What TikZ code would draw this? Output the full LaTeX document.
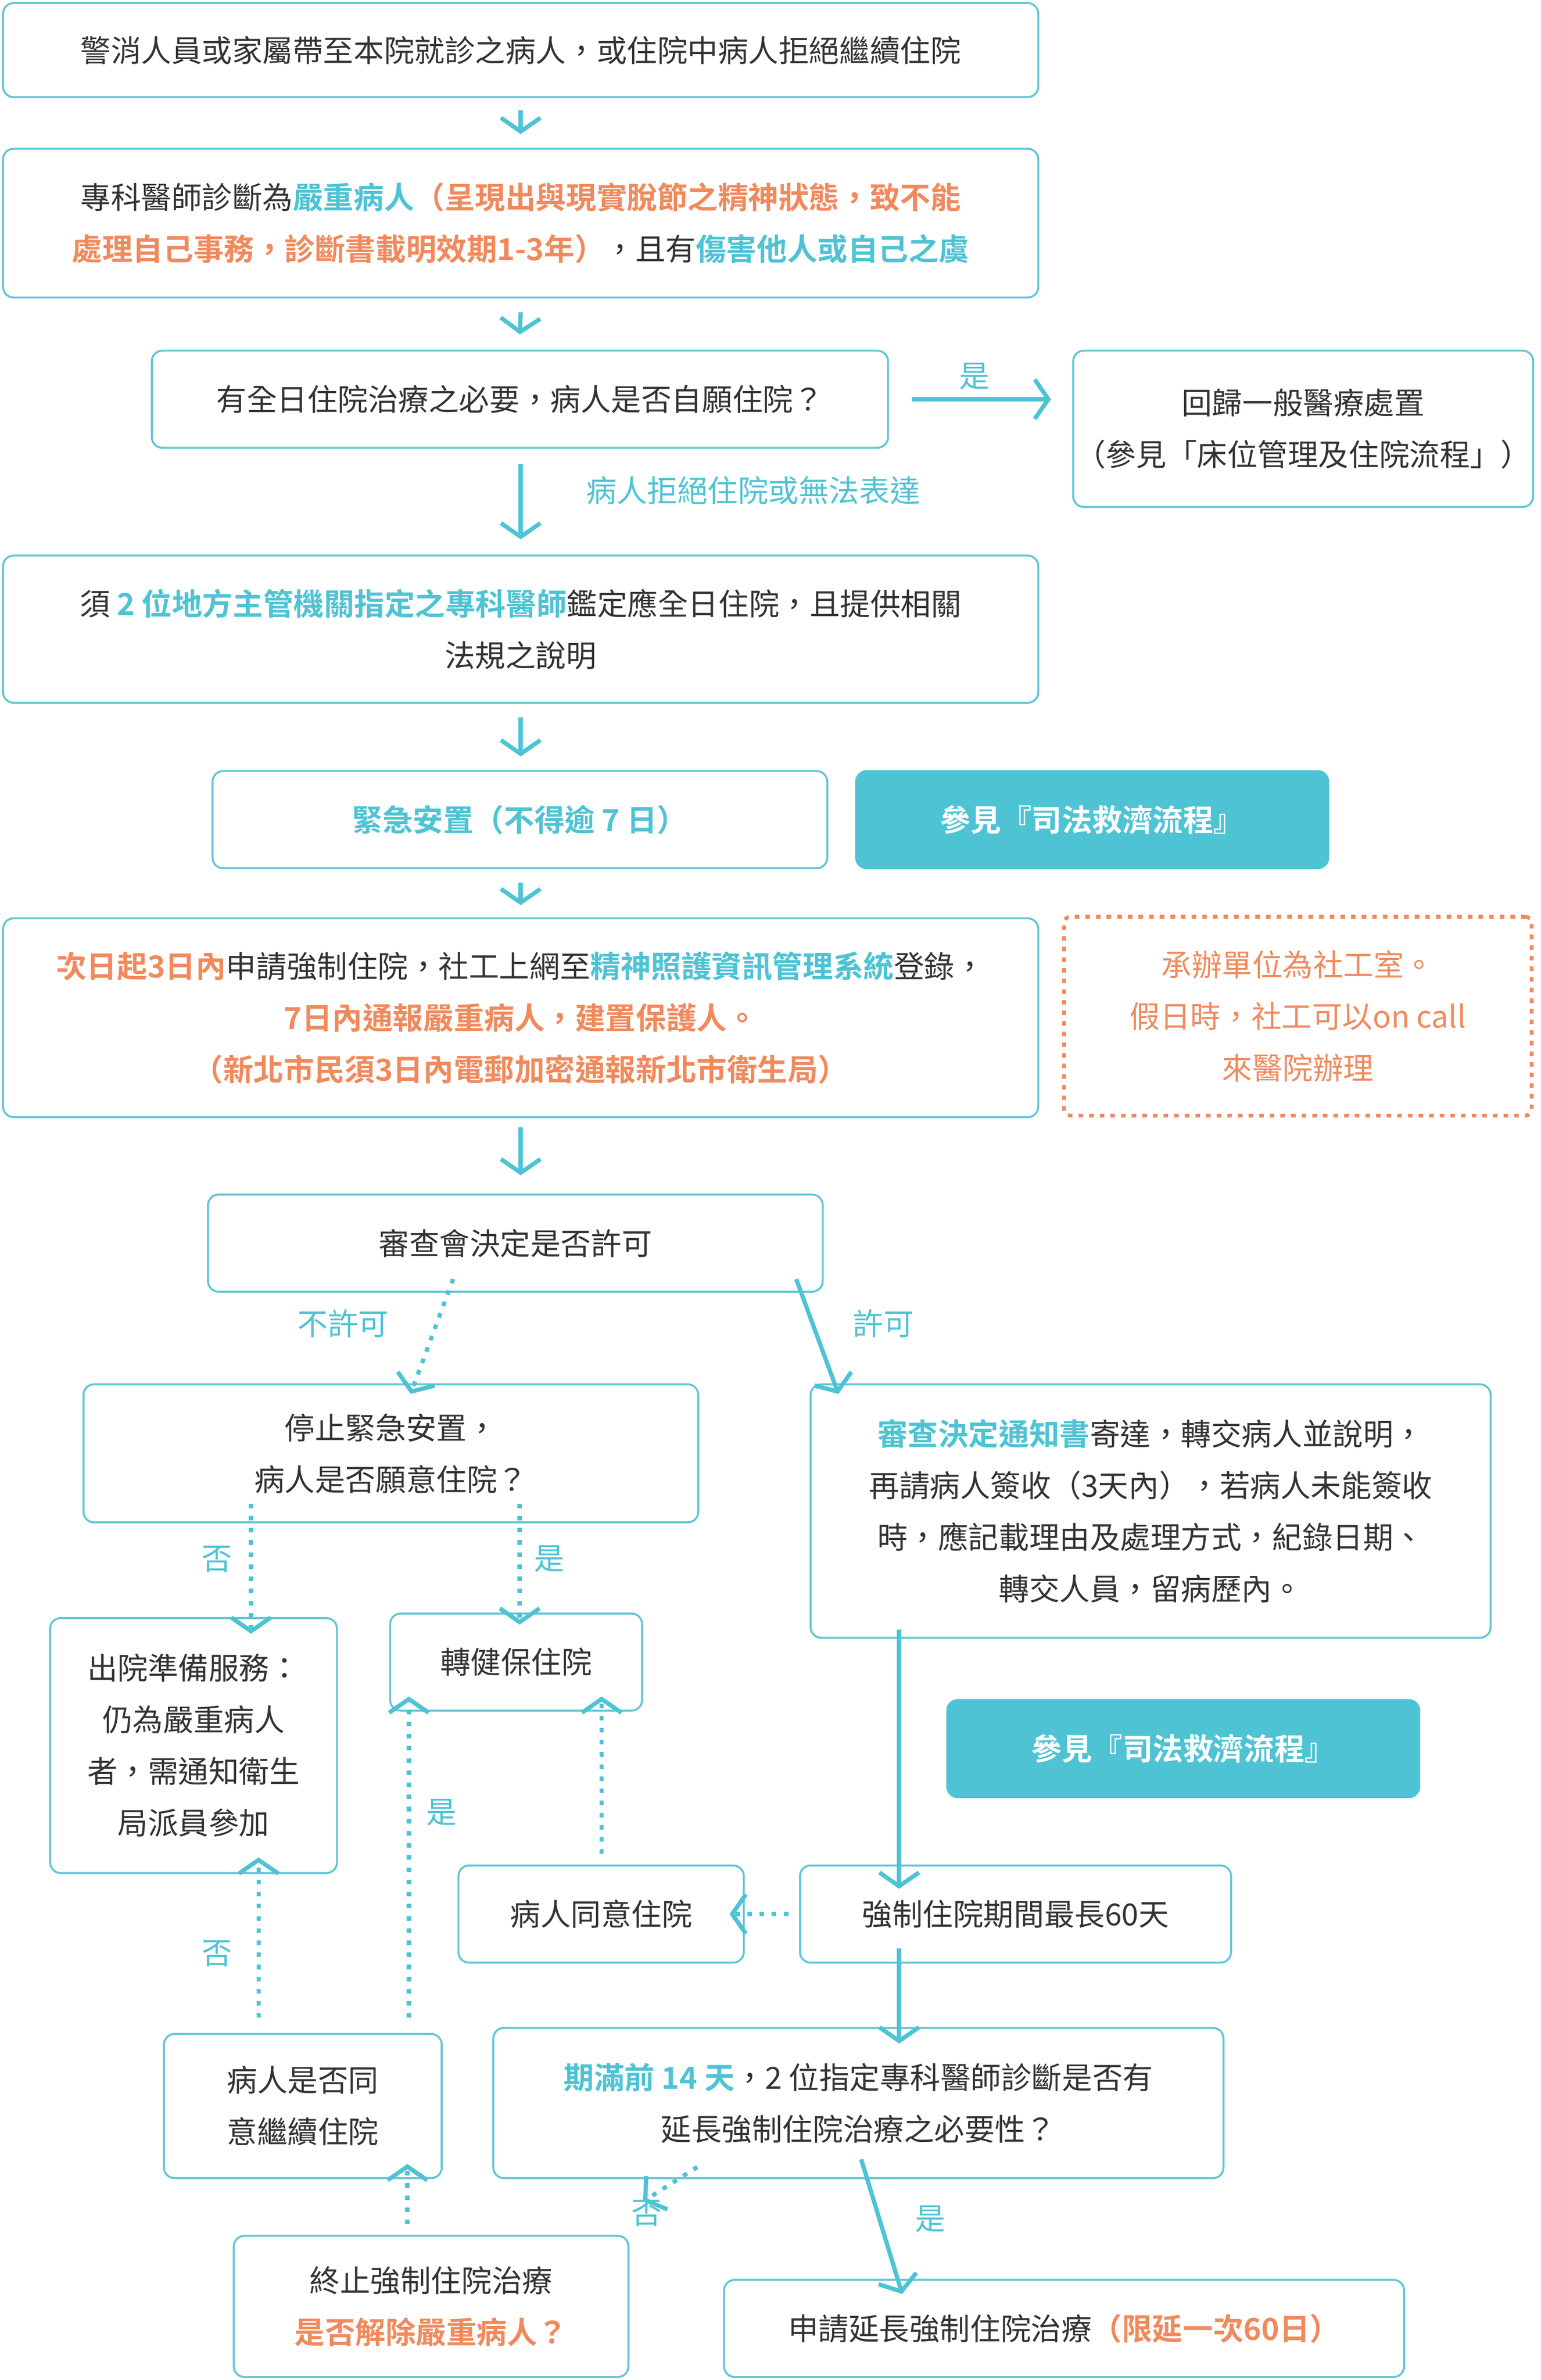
\documentclass[tikz,border=0pt]{standalone}
\usepackage{fontspec}
\setmainfont{Noto Sans CJK TC}[BoldFont={Noto Sans CJK TC Bold}]
\usetikzlibrary{arrows.meta,calc}
\definecolor{tl}{HTML}{4EC3D4}
\definecolor{tb}{HTML}{62C6D6}
\definecolor{og}{HTML}{F08A5D}
\definecolor{tx}{HTML}{333333}
\newcommand{\T}[1]{\textcolor{tl}{\textbf{#1}}}
\newcommand{\Og}[1]{\textcolor{og}{\textbf{#1}}}
\newcommand{\bx}[7]{\node[#6,minimum width={(#4-#2)*1pt},minimum height={(#5-#3)*1pt}] (#1) at ({(#2+#4)/2},{(#3+#5)/2}) {#7};}
\tikzset{x=1pt,y=-1pt,
 box/.style={draw=tb,line width=1.3pt,rounded corners=7pt,align=center,inner sep=0pt,text=tx,font=\fontsize{20}{34}\selectfont},
 fill box/.style={box,fill=tl,draw=tl,text=white,font=\fontsize{20}{34}\selectfont\bfseries},
 dbox/.style={box,draw=og,dash pattern=on 3pt off 4pt,line width=2.5pt,rounded corners=4pt,text=og},
 ar/.style={draw=tl,line width=2.8pt,-{Straight Barb[length=9pt,width=26pt]}},
 dar/.style={ar,dash pattern=on 3pt off 5pt},
 lb/.style={text=tl,font=\fontsize{20}{24}\selectfont,inner sep=0pt}}
\begin{document}
\begin{tikzpicture}
\fill[white] (0,0) rectangle (1015,1568);
\bx{n1}{2}{2}{684}{64}{box}{警消人員或家屬帶至本院就診之病人，或住院中病人拒絕繼續住院}
\bx{n2}{2}{98}{684}{196}{box}{專科醫師診斷為\T{嚴重病人}\Og{（呈現出與現實脫節之精神狀態，致不能}\\\Og{處理自己事務，診斷書載明效期1-3年）}，且有\T{傷害他人或自己之虞}}
\bx{n3}{100}{231}{585}{295}{box}{有全日住院治療之必要，病人是否自願住院？}
\bx{n4}{707}{231}{1010}{334}{box}{回歸一般醫療處置\\（參見「床位管理及住院流程」）}
\bx{n5}{2}{366}{684}{463}{box}{須 \T{2 位地方主管機關指定之專科醫師}鑑定應全日住院，且提供相關\\法規之說明}
\bx{n6}{140}{508}{545}{572}{box}{\T{緊急安置（不得逾 7 日）}}
\bx{n7}{564}{508}{875}{572}{fill box}{參見『司法救濟流程』}
\bx{n8}{2}{605}{684}{736}{box}{\Og{次日起3日內}申請強制住院，社工上網至\T{精神照護資訊管理系統}登錄，\\\Og{7日內通報嚴重病人，建置保護人。}\\\Og{（新北市民須3日內電郵加密通報新北市衛生局）}}
\bx{n9}{701}{604}{1009}{735}{dbox}{承辦單位為社工室。\\假日時，社工可以on call\\來醫院辦理}
\bx{n10}{137}{787}{542}{851}{box}{審查會決定是否許可}
\bx{n11}{55}{912}{460}{1003}{box}{停止緊急安置，\\病人是否願意住院？}
\bx{n12}{534}{912}{982}{1079}{box}{\T{審查決定通知書}寄達，轉交病人並說明，\\再請病人簽收（3天內），若病人未能簽收\\時，應記載理由及處理方式，紀錄日期、\\轉交人員，留病歷內。}
\bx{n13}{33}{1066}{222}{1234}{box}{出院準備服務：\\仍為嚴重病人\\者，需通知衛生\\局派員參加}
\bx{n14}{257}{1063}{423}{1127}{box}{轉健保住院}
\bx{n15}{624}{1120}{935}{1184}{fill box}{參見『司法救濟流程』}
\bx{n16}{302}{1229}{490}{1293}{box}{病人同意住院}
\bx{n17}{527}{1229}{811}{1293}{box}{強制住院期間最長60天}
\bx{n18}{108}{1340}{291}{1435}{box}{病人是否同\\意繼續住院}
\bx{n19}{325}{1336}{806}{1435}{box}{\T{期滿前 14 天}，2 位指定專科醫師診斷是否有\\延長強制住院治療之必要性？}
\bx{n20}{154}{1473}{414}{1566}{box}{終止強制住院治療\\\Og{是否解除嚴重病人？}}
\bx{n21}{477}{1502}{925}{1566}{box}{申請延長強制住院治療\Og{（限延一次60日）}}
% arrows
\draw[ar] ([yshift=-8pt]n1.south) -- ([yshift=9pt]n2.north);
\draw[ar] ([yshift=-9pt]n2.south) -- ([yshift=10pt]n3.north);
\draw[ar] ([xshift=15pt]n3.east) -- ([xshift=-14pt]n4.west |- n3.east);
\node[lb] at (642,248) {是};
\draw[ar] ([yshift=-10pt]n3.south -| n5.north) -- ([yshift=10pt]n5.north);
\node[lb,anchor=west] at (386,323) {病人拒絕住院或無法表達};
\draw[ar] ([yshift=-9pt]n5.south) -- ([yshift=9pt]n5.south |- n6.north);
\draw[ar] ([yshift=-9pt]n5.south |- n6.south) -- ([yshift=8pt]n8.north);
\draw[ar] ([yshift=-6pt]n8.south) -- ([yshift=12pt]n8.south |- n10.north);
\draw[dar] ($(n10.south)+(-41,-9)$) -- ($(n11.north)+(13,7)$);
\node[lb] at (226,872) {不許可};
\draw[ar] ($(n10.south)+(185,-9)$) -- ($(n12.north west)+(19,7)$);
\node[lb] at (582,872) {許可};
\draw[dar] ($(n11.south west)+(111,-13)$) -- ($(n13.north west)+(133,11)$);
\node[lb] at (143,1027) {否};
\draw[dar] ($(n11.south west)+(288,-13)$) -- ($(n14.north west)+(86,8)$);
\node[lb] at (362,1027) {是};
\draw[ar] ($(n12.south west)+(59,-6)$) -- ($(n17.north west)+(66,16)$);
\draw[dar] ([xshift=-7pt]n17.west) -- ([xshift=-10pt]n16.east);
\draw[dar] ($(n16.north west)+(95,-7)$) -- ($(n14.south west)+(140,-10)$);
\draw[dar] ($(n18.north west)+(162,-10)$) -- ($(n14.south west)+(13,-10)$);
\node[lb] at (291,1194) {是};
\draw[dar] ($(n18.north west)+(63,-10)$) -- ($(n13.south west)+(138,-11)$);
\node[lb] at (143,1287) {否};
\draw[ar] ($(n17.south west)+(66,-10)$) -- ($(n19.north west)+(268,11)$);
\draw[dar] ($(n19.south west)+(135,-8)$) -- ($(n20.north east)+(9,-22)$);
\node[lb] at (426,1458) {否};
\draw[ar] ($(n19.south west)+(243,-13)$) -- ($(n21.north west)+(118,10)$);
\node[lb] at (613,1462) {是};
\draw[dar] ($(n20.north west)+(115,-7)$) -- ($(n18.south west)+(161,-10)$);
\end{tikzpicture}
\end{document}
